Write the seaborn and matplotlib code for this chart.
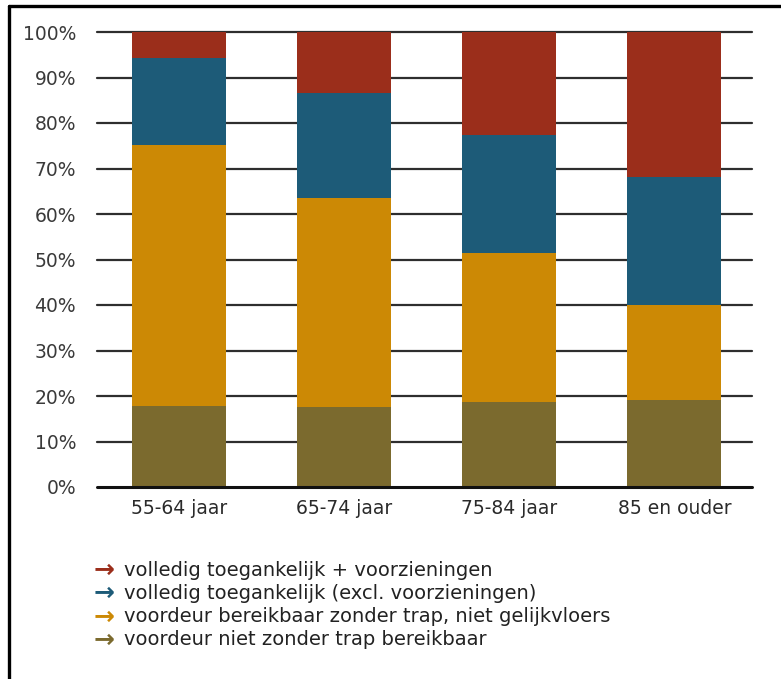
import matplotlib
matplotlib.use("Agg")
import matplotlib.pyplot as plt
from matplotlib.lines import Line2D
import numpy as np
import pandas as pd
import seaborn as sns

# Age groups and share of dwellings per accessibility class (percent)
groups = ["55-64 jaar", "65-74 jaar", "75-84 jaar", "85 en ouder"]
niet_zonder_trap = [17.8, 17.5, 18.7, 19.2]
zonder_trap_niet_gelijkvloers = [57.3, 46.0, 32.8, 20.9]
toegankelijk_excl = [19.1, 23.0, 25.8, 28.0]
toegankelijk_plus = [5.8, 13.5, 22.7, 31.9]

legend_text = [
    "volledig toegankelijk + voorzieningen",
    "volledig toegankelijk (excl. voorzieningen)",
    "voordeur bereikbaar zonder trap, niet gelijkvloers",
    "voordeur niet zonder trap bereikbaar",
]
y_ticks = [0, 10, 20, 30, 40, 50, 60, 70, 80, 90, 100]
colors = ["#7b6a2e", "#cc8905", "#1d5b78", "#9b2e1b"]

sns.set_theme(style="white")
plt.rcParams["font.family"] = ["DejaVu Sans"]

segments = [niet_zonder_trap, zonder_trap_niet_gelijkvloers, toegankelijk_excl, toegankelijk_plus]
cumulative = np.cumsum(np.array(segments), axis=0)

fig = plt.figure(figsize=(7.81, 6.79), dpi=100)
ax = fig.add_axes([97 / 781, 1 - 487 / 679, (752 - 97) / 781, (487 - 32) / 679])

# stacked bars: draw the cumulative totals from the top layer downwards
for i in range(len(segments) - 1, -1, -1):
    df = pd.DataFrame({"groep": groups, "waarde": cumulative[i]})
    sns.barplot(data=df, x="groep", y="waarde", order=groups, color=colors[i],
                saturation=1, width=0.57, ax=ax, zorder=2, linewidth=0)

ax.set_xlim(-0.497, 3.47)
ax.set_ylim(0, 100)
ax.set_yticks(y_ticks)
ax.set_yticklabels([f"{t}%" for t in y_ticks])
ax.set_xlabel("")
ax.set_ylabel("")
for s in ax.spines.values():
    s.set_visible(False)

for t in y_ticks[1:]:
    ax.axhline(t, color="#2e2e2e", lw=1.6, zorder=1, clip_on=False)
ax.axhline(0, color="#111111", lw=2.2, zorder=3, clip_on=False)

ax.tick_params(axis="y", length=0, pad=15, labelsize=13.5, labelcolor="#3a3a3a")
ax.tick_params(axis="x", length=0, pad=9, labelsize=13.5, labelcolor="#2a2a2a")

# legend drawn as coloured arrows followed by the class names
legend_colors = colors[::-1]
for k, (txt, c) in enumerate(zip(legend_text, legend_colors)):
    ypx = 570 + k * 23.3
    fig.text(94 / 781, 1 - ypx / 679, "\u2192", color=c, fontsize=18,
             fontweight="bold", va="center", ha="left")
    fig.text(124 / 781, 1 - ypx / 679, txt, color="#222222", fontsize=14,
             va="center", ha="left")

# surrounding frame (left and top edges)
fig.add_artist(Line2D([9 / 781, 9 / 781], [0, 1 - 6 / 679], color="black", lw=2.4,
                      transform=fig.transFigure))
fig.add_artist(Line2D([9 / 781, 1], [1 - 6 / 679, 1 - 6 / 679], color="black", lw=2.4,
                      transform=fig.transFigure))

fig.savefig("out.png", dpi=100)
